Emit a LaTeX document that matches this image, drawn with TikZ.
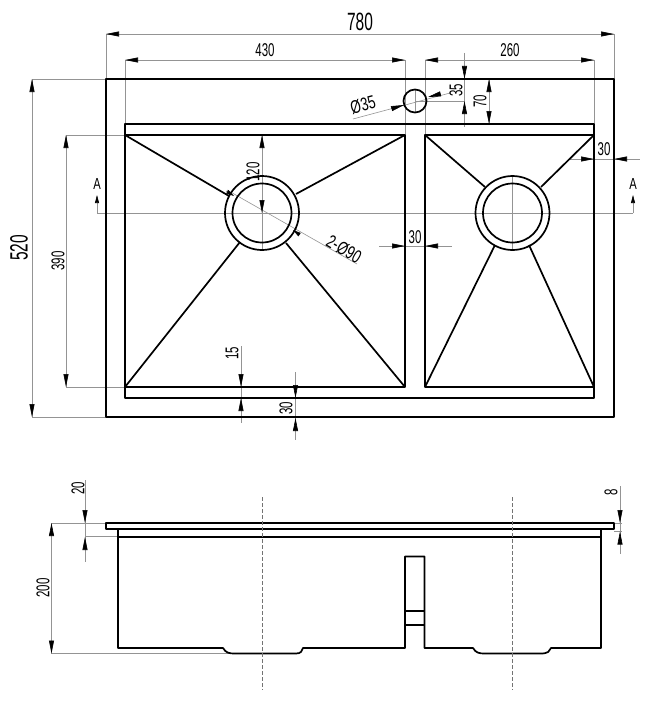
\documentclass[tikz,border=0pt]{standalone}
\usepackage{fontspec}
\setmainfont{Liberation Sans}
\usetikzlibrary{arrows.meta}
\tikzset{
         body/.style={line width=1.7pt,black,line join=round},
         thinline/.style={line width=.6pt,black!42},
         centerline/.style={line width=.5pt,black!55,dash pattern=on 4pt off 2pt},
         tip/.style={line width=.6pt,black!42,-{Triangle[length=13pt,width=5pt,black]}},
         smalltip/.style={line width=.6pt,black!42,-{Triangle[length=8pt,width=4pt,black]}},
         dimtext/.style={inner sep=0pt,text=black,font=\fontsize{18.5}{18.5}\selectfont,xscale=.62},
         bigtext/.style={inner sep=0pt,text=black,font=\fontsize{25}{25}\selectfont,xscale=.62},
         symtext/.style={inner sep=0pt,text=black,font=\fontsize{18.5}{18.5}\selectfont,xscale=.72}
        }
\begin{document}
\begin{tikzpicture}[x=1pt,y=-1pt]
\useasboundingbox(0,0)rectangle(650,701);
%extension and dimension lines
\foreach \xa/\ya/\xb/\yb in {106/34/614/34,106/34/106/79,614/34/614/79,125/60/405/60,125/60/125/135,405/60/405/135,
425/60/594/60,425/60/425/135,594/60/594/124,32/79/106/79,32/417/106/417,32/79/32/417,66/135/125/135,66/387/125/387,
66/135/66/387,97/213/633/213,464.5/53/464.5/127,415/101/464.5/101,489/79/489/124,353/119/450/93,570/159/640/159,
379/246/452/246,262/135/262/250,512.5/176/512.5/250,415/90/415/112,227/190/357/264,241/346/241/423,295.5/372/295.5/440,
85/480/85/562,51.5/523/51.5/653.5,51.5/523/106/523,85/536/118/536,51.5/653.5/232/653.5,620/486/620/554,614/523/622/523,
614/531/622/531}{
\draw[thinline](\xa,\ya)--(\xb,\yb);
}
%top view
\draw[body](106,79)rectangle(614,417);
\draw[body](125,124)rectangle(594,398);
\draw[body](125,135)--(405,135)--(405,387)--(125,387);
\draw[body](594,135)--(425,135)--(425,387)--(594,387);
\draw[body](415,101)circle[radius=11.5];
\foreach \x in {262,512.5}{
\draw[body](\x,213)circle[radius=37];
\draw[body](\x,213)circle[radius=29.5];
}
\foreach \xa/\ya/\xb/\yb in {125/135/229/196,405/135/296/194,125/387/240/242,405/387/286/243,
425/135/485/187,594/135/541/187,425/387/495/245,594/387/529/245}{
\draw[body](\xa,\ya)--(\xb,\yb);
}
%side view
\draw[body,line width=1.2pt](106,523)rectangle(614,529);
\draw[body](118,529)--(118,648)--(223,648)..controls(226,653)and(229,653.5)..(235,653.5)--(296,653.5)
..controls(301,653.5)and(302,651)..(303,648)--(405,648)--(405,556.5)--(424.5,556.5)--(424.5,648)--(473,648)
..controls(476,653)and(479,653.5)..(485,653.5)--(541,653.5)..controls(548,653.5)and(550,651)..(551,648)
--(601,648)--(601,529);
\draw[body,line width=2pt](118,537)--(601,537);
\draw[body,line width=1.2pt](405,611)--(424.5,611);
\draw[body,line width=1.2pt](405,625)--(424.5,625);
\foreach \x in {262,512.5}{
\draw[centerline](\x,497)--(\x,690);
}
%arrows
\foreach \xa/\ya/\xb/\yb in {119/34/106/34,601/34/614/34,138/60/125/60,392/60/405/60,438/60/425/60,581/60/594/60,
32/92/32/79,32/404/32/417,66/148/66/135,66/374/66/387,464.5/66/464.5/79,464.5/114/464.5/101,489/92/489/79,489/111/489/124,
392/108.5/404/105,440/94/428/97,581/159/594/159,627/159/614/159,392/246/405/246,438/246/425/246,262/148/262/135,262/200/262/213,
241/375/241/387,241/411/241/398,295.5/385/295.5/398,295.5/431/295.5/418,
85/510/85/523,85/550/85/537,51.5/536/51.5/523,51.5/640.5/51.5/653.5,620/510/620/523,620/542/620/531.5}{
\draw[tip](\xa,\ya)--(\xb,\yb);
}
\foreach \xa/\ya/\xb/\yb in {226/191/234/196,300/235/293/230}{
\draw[smalltip](\xa,\ya)--(\xb,\yb);
}
\foreach \x in {97,633}{
\draw[smalltip](\x,213)--(\x,195);
}
%labels
\node[bigtext](w780)at(360,22){780};
\node[dimtext](w430)at(265,50){430};
\node[dimtext](w260)at(510,50){260};
\node[rotate=90,bigtext](h520)at(19,248){520};
\node[rotate=90,dimtext](h390)at(58,261){390};
\node[rotate=90,dimtext](h35)at(456,90){35};
\node[rotate=90,dimtext](h70)at(480,101){70};
\node[rotate=15,symtext](d35)at(363,105){Ø35};
\node[dimtext](w30a)at(604,149){30};
\node[dimtext](w30b)at(415,237){30};
\node[rotate=90,dimtext](h120)at(253,172){120};
\node[rotate=-30,symtext](d90)at(344,249){2-Ø90};
\node[rotate=90,dimtext](h15)at(232,353){15};
\node[rotate=90,dimtext](h30)at(286,408){30};
\node[rotate=90,dimtext](h20)at(78,488){20};
\node[rotate=90,dimtext](h200)at(43,588){200};
\node[rotate=90,dimtext](h8)at(611,492){8};
\foreach \x/\name in {97/al,633/ar}{
\node[inner sep=0pt,text=black,font=\fontsize{16}{16}\selectfont,xscale=.7](\name)at(\x,184){A};
}
\end{tikzpicture}
\end{document}
